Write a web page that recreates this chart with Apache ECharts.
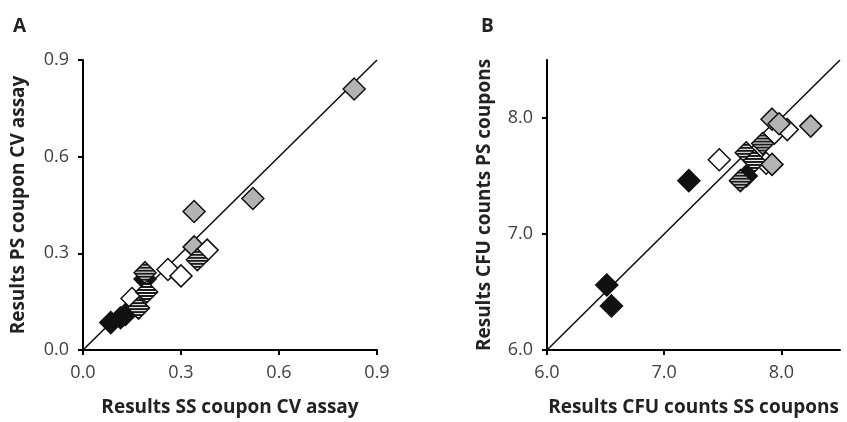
<!DOCTYPE html>
<html>
<head>
<meta charset="utf-8">
<script src="https://cdn.jsdelivr.net/npm/echarts@6/dist/echarts.min.js"></script>
<style>
  html, body { margin: 0; padding: 0; background: #fff; }
  #main { width: 847px; height: 422px; }
</style>
</head>
<body>
<div id="main"></div>
<script>
// panel A: CV assay, SS vs PS coupons
var aGray = [[0.83, 0.81], [0.52, 0.47], [0.34, 0.43], [0.34, 0.32]];
var aWhite = [[0.38, 0.31], [0.26, 0.25], [0.30, 0.23], [0.15, 0.16]];
var aBlack = [[0.19, 0.22], [0.13, 0.11], [0.115, 0.10], [0.085, 0.085]];
var aHatch = [[0.35, 0.28], [0.19, 0.24], [0.195, 0.18], [0.17, 0.13]];
var aTicks = [0, 0.3, 0.6, 0.9];

// panel B: CFU counts, SS vs PS coupons
var bWhite = [[7.47, 7.64], [7.94, 7.87], [8.05, 7.90], [7.87, 7.61]];
var bBlack = [[6.51, 6.56], [6.55, 6.38], [7.21, 7.46], [7.70, 7.50]];
var bHatch = [[7.70, 7.70], [7.84, 7.78], [7.77, 7.63], [7.65, 7.46]];
var bGray = [[7.92, 7.99], [7.98, 7.95], [8.25, 7.93], [7.92, 7.60]];
var bTicks = [6, 7, 8];

var lineA = [[0, 0], [0.9, 0.9]];
var lineB = [[6, 6], [8.5, 8.5]];

var symSize = 22;

// striped fill for the hatched diamonds (symbols are scaled by size/2, so undo that)
var cv = document.createElement('canvas');
cv.width = 4;
cv.height = 3;
var ctx = cv.getContext('2d');
ctx.fillStyle = '#fff';
ctx.fillRect(0, 0, 4, 3);
ctx.fillStyle = '#1a1a1a';
ctx.fillRect(0, 0, 4, 2);
var hatch = { image: cv, repeat: 'repeat', scaleX: 2 / symSize, scaleY: 2 / symSize };

var font = 'Open Sans';
var nameStyle = { fontFamily: font, fontWeight: 'bold', fontSize: 19, color: '#222' };
var labelStyle = { margin: 14, fontFamily: font, fontSize: 18, color: '#404040',
    formatter: function (v) { return v.toFixed(1); } };

function axis(idx, min, max, ticks, name, gap) {
    return {
        gridIndex: idx, type: 'value', min: min, max: max,
        name: name, nameLocation: 'middle', nameGap: gap, nameTextStyle: nameStyle,
        axisLine: { show: true, onZero: false, lineStyle: { color: '#000', width: 2 } },
        axisTick: { show: true, inside: false, length: 5, customValues: ticks, lineStyle: { color: '#000', width: 2 } },
        axisLabel: Object.assign({ customValues: ticks }, labelStyle),
        splitLine: { show: false }
    };
}
function dots(idx, data, color, z) {
    return {
        type: 'scatter', xAxisIndex: idx, yAxisIndex: idx, data: data,
        symbol: 'diamond', symbolSize: symSize, z: z, silent: true,
        itemStyle: { color: color, borderColor: '#111', borderWidth: 1.5, opacity: 1 }
    };
}
function diag(idx, data) {
    return {
        type: 'line', xAxisIndex: idx, yAxisIndex: idx, data: data,
        symbol: 'none', z: 1, silent: true,
        lineStyle: { color: '#111', width: 1.6 }
    };
}

var myChart = echarts.init(document.getElementById('main'));
var option = {
    backgroundColor: '#fff',
    animation: false,
    title: [
        { text: 'A', left: 8, top: 12, textStyle: { fontFamily: font, fontWeight: 'bold', fontSize: 19, color: '#222' } },
        { text: 'B', left: 476, top: 12, textStyle: { fontFamily: font, fontWeight: 'bold', fontSize: 19, color: '#222' } }
    ],
    grid: [
        { left: 83, top: 60, width: 294, height: 292 },
        { left: 547, top: 60, width: 293, height: 292 }
    ],
    xAxis: [
        axis(0, 0, 0.9, aTicks, 'Results SS coupon CV assay', 48),
        axis(1, 6, 8.5, bTicks, 'Results CFU counts SS coupons', 48)
    ],
    yAxis: [
        axis(0, 0, 0.9, aTicks, 'Results PS coupon CV assay', 55),
        axis(1, 6, 8.5, bTicks, 'Results CFU counts PS coupons', 53)
    ],
    series: [
        diag(0, lineA),
        dots(0, aGray, '#b3b3b3', 2),
        dots(0, aWhite, '#fff', 3),
        dots(0, aBlack, '#111', 4),
        dots(0, aHatch, hatch, 5),
        diag(1, lineB),
        dots(1, bWhite, '#fff', 2),
        dots(1, bBlack, '#111', 3),
        dots(1, bHatch, hatch, 4),
        dots(1, bGray, '#b3b3b3', 5)
    ]
};
myChart.setOption(option);
window.onresize = myChart.resize;
</script>
</body>
</html>
